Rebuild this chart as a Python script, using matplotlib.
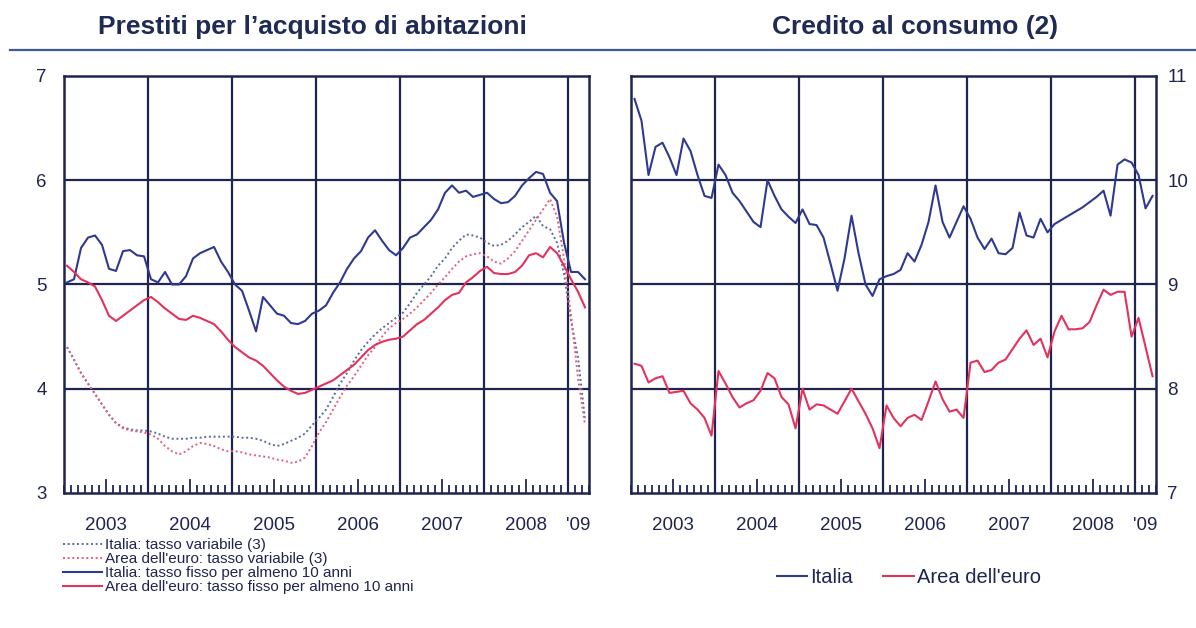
import numpy as np
import matplotlib
matplotlib.use("Agg")
import matplotlib.pyplot as plt
from matplotlib.lines import Line2D

# ------ data: monthly, Jan 2003 - Mar 2009 ------
start_year = 2003
n_months = 75

# Prestiti per l'acquisto di abitazioni
it_var = [4.40, 4.28, 4.15, 4.05, 3.95, 3.85, 3.75, 3.67, 3.63, 3.61, 3.60, 3.60,
          3.59, 3.57, 3.54, 3.52, 3.52, 3.52, 3.53, 3.53, 3.54, 3.54, 3.54, 3.54,
          3.54, 3.53, 3.53, 3.52, 3.50, 3.47, 3.45, 3.47, 3.50, 3.53, 3.57, 3.65,
          3.72, 3.80, 3.92, 4.05, 4.15, 4.27, 4.37, 4.45, 4.52, 4.58, 4.63, 4.68,
          4.73, 4.82, 4.92, 5.00, 5.08, 5.18, 5.25, 5.35, 5.42, 5.48, 5.47, 5.45,
          5.40, 5.37, 5.38, 5.42, 5.48, 5.55, 5.60, 5.66, 5.56, 5.53, 5.40, 5.10,
          4.65, 4.30, 3.70]
eu_var = [4.40, 4.28, 4.15, 4.05, 3.95, 3.85, 3.75, 3.67, 3.62, 3.60, 3.59, 3.58,
          3.56, 3.52, 3.45, 3.40, 3.37, 3.40, 3.45, 3.48, 3.47, 3.45, 3.42, 3.40,
          3.40, 3.39, 3.37, 3.36, 3.35, 3.34, 3.32, 3.31, 3.29, 3.30, 3.34, 3.45,
          3.58, 3.68, 3.80, 3.92, 4.03, 4.12, 4.22, 4.32, 4.40, 4.50, 4.58, 4.63,
          4.67, 4.72, 4.78, 4.85, 4.92, 5.00, 5.07, 5.15, 5.22, 5.27, 5.29, 5.30,
          5.27, 5.22, 5.20, 5.25, 5.32, 5.42, 5.52, 5.62, 5.72, 5.82, 5.65, 5.25,
          4.70, 4.10, 3.65]
it_fix = [5.02, 5.05, 5.35, 5.45, 5.47, 5.38, 5.15, 5.13, 5.32, 5.33, 5.28, 5.27,
          5.05, 5.02, 5.12, 5.00, 5.00, 5.08, 5.25, 5.30, 5.33, 5.36, 5.22, 5.12,
          5.00, 4.94, 4.75, 4.55, 4.88, 4.80, 4.72, 4.70, 4.63, 4.62, 4.65, 4.72,
          4.75, 4.80, 4.92, 5.02, 5.15, 5.25, 5.32, 5.45, 5.52, 5.42, 5.33, 5.28,
          5.35, 5.45, 5.48, 5.55, 5.62, 5.72, 5.88, 5.95, 5.88, 5.90, 5.84, 5.86,
          5.88, 5.82, 5.78, 5.79, 5.85, 5.95, 6.02, 6.08, 6.06, 5.88, 5.80, 5.40,
          5.12, 5.12, 5.05]
eu_fix = [5.18, 5.12, 5.05, 5.02, 4.98, 4.85, 4.70, 4.65, 4.70, 4.75, 4.80, 4.85,
          4.88, 4.83, 4.77, 4.72, 4.67, 4.66, 4.70, 4.68, 4.65, 4.62, 4.55, 4.47,
          4.40, 4.35, 4.30, 4.27, 4.22, 4.15, 4.08, 4.02, 3.98, 3.95, 3.96, 3.99,
          4.02, 4.05, 4.08, 4.13, 4.18, 4.23, 4.30, 4.37, 4.42, 4.45, 4.47, 4.48,
          4.50, 4.56, 4.62, 4.66, 4.72, 4.78, 4.85, 4.90, 4.92, 5.02, 5.07, 5.13,
          5.17, 5.11, 5.10, 5.10, 5.12, 5.18, 5.28, 5.30, 5.26, 5.36, 5.30, 5.18,
          5.05, 4.93, 4.78]

# Credito al consumo
it_cons = [10.78, 10.57, 10.05, 10.32, 10.36, 10.22, 10.05, 10.40, 10.28, 10.05, 9.85, 9.83,
           10.15, 10.05, 9.88, 9.80, 9.70, 9.60, 9.55, 10.00, 9.85, 9.72, 9.65, 9.59,
           9.72, 9.58, 9.57, 9.45, 9.20, 8.94, 9.25, 9.66, 9.30, 9.00, 8.89, 9.05,
           9.08, 9.10, 9.14, 9.30, 9.22, 9.38, 9.60, 9.95, 9.60, 9.45, 9.60, 9.75,
           9.63, 9.45, 9.34, 9.44, 9.30, 9.29, 9.35, 9.69, 9.47, 9.45, 9.63, 9.50,
           9.58, 9.62, 9.66, 9.70, 9.74, 9.79, 9.84, 9.90, 9.66, 10.15, 10.20, 10.17,
           10.05, 9.73, 9.85]
eu_cons = [8.24, 8.22, 8.06, 8.10, 8.12, 7.96, 7.97, 7.98, 7.86, 7.80, 7.72, 7.55,
           8.17, 8.05, 7.92, 7.82, 7.86, 7.89, 7.98, 8.15, 8.10, 7.92, 7.85, 7.62,
           8.00, 7.80, 7.85, 7.84, 7.80, 7.76, 7.88, 8.00, 7.88, 7.76, 7.62, 7.43,
           7.84, 7.72, 7.64, 7.72, 7.75, 7.70, 7.88, 8.07, 7.90, 7.78, 7.80, 7.72,
           8.25, 8.27, 8.16, 8.18, 8.25, 8.28, 8.38, 8.48, 8.56, 8.42, 8.48, 8.30,
           8.55, 8.70, 8.57, 8.57, 8.58, 8.64, 8.80, 8.95, 8.90, 8.93, 8.93, 8.50,
           8.68, 8.40, 8.12]

years = [2003, 2004, 2005, 2006, 2007, 2008]
year_labels = ["2003", "2004", "2005", "2006", "2007", "2008", "'09"]

# ------ plot ------
plt.rcParams['font.family'] = ['Liberation Sans', 'DejaVu Sans']

navy = "#1f2550"
blue = "#2e3a8f"
red = "#e3325c"
blue_dot = "#5c6a9c"
red_dot = "#e0607f"

x = start_year + (np.arange(n_months) + 0.5) / 12

fig = plt.figure(figsize=(11.96, 6.28), dpi=100)
ax1 = fig.add_axes([0.0531, 0.215, 0.439, 0.664])
ax2 = fig.add_axes([0.5276, 0.215, 0.439, 0.664])


def style(ax, ylo, yhi):
    ax.set_xlim(start_year, 2009.25)
    ax.set_ylim(ylo, yhi)
    for yr in range(2004, 2010):
        ax.axvline(yr, color=navy, lw=1.6, zorder=1)
    for v in range(ylo + 1, yhi):
        ax.axhline(v, color=navy, lw=1.6, zorder=1)
    for s in ax.spines.values():
        s.set_color(navy)
        s.set_linewidth(1.8)
    ax.set_yticks(range(ylo, yhi + 1))
    ax.set_xticks(start_year + np.arange(n_months + 1) / 12, minor=True)
    ax.set_xticks([y + 0.5 for y in years] + [2009.125])
    ax.set_xticklabels(year_labels)
    ax.tick_params(axis='x', which='minor', direction='in', length=6, width=1.3, color=navy, top=False)
    ax.tick_params(axis='x', which='major', direction='in', length=10, width=1.3, color=navy,
                   pad=17, labelsize=13.5, labelcolor=navy, top=False)
    ax.xaxis.get_major_ticks()[-1].tick1line.set_visible(False)
    ax.tick_params(axis='y', length=0, labelsize=13.5, labelcolor=navy)


style(ax1, 3, 7)
ax1.tick_params(axis='y', pad=12)
l1, = ax1.plot(x, it_var, color=blue_dot, lw=1.4, ls=(0, (1, 1.4)), zorder=3,
               label="Italia: tasso variabile (3)")
l2, = ax1.plot(x, eu_var, color=red_dot, lw=1.4, ls=(0, (1, 1.4)), zorder=3,
               label="Area dell'euro: tasso variabile (3)")
l3, = ax1.plot(x, it_fix, color=blue, lw=1.5, zorder=4,
               label="Italia: tasso fisso per almeno 10 anni")
l4, = ax1.plot(x, eu_fix, color=red, lw=1.5, zorder=4,
               label="Area dell'euro: tasso fisso per almeno 10 anni")

style(ax2, 7, 11)
ax2.yaxis.tick_right()
ax2.tick_params(axis='y', length=0, pad=8)
r1, = ax2.plot(x, it_cons, color=blue, lw=1.5, zorder=4, label="Italia")
r2, = ax2.plot(x, eu_cons, color=red, lw=1.5, zorder=4, label="Area dell'euro")

# titles and rule
fig.text(0.261, 0.957, "Prestiti per l\u2019acquisto di abitazioni", ha='center', va='center',
         fontsize=19, fontweight='bold', color="#1f2a55")
fig.text(0.765, 0.957, "Credito al consumo (2)", ha='center', va='center',
         fontsize=19, fontweight='bold', color="#1f2a55")
fig.add_artist(Line2D([0.008, 1.0], [0.92, 0.92], transform=fig.transFigure,
                      color="#3b5b9e", lw=1.6))

fig.legend(handles=[l1, l2, l3, l4], loc='upper left', bbox_to_anchor=(0.053, 0.143),
           frameon=False, fontsize=11, handlelength=2.5, handletextpad=0.2,
           labelspacing=0.0, borderaxespad=0, borderpad=0, labelcolor=navy)
fig.legend(handles=[r1, r2], loc='center', bbox_to_anchor=(0.76, 0.08), ncol=2,
           frameon=False, fontsize=14.5, handlelength=1.5, handletextpad=0.15,
           columnspacing=1.5, borderaxespad=0, borderpad=0, labelcolor=navy)

fig.savefig("out.png", dpi=100)
